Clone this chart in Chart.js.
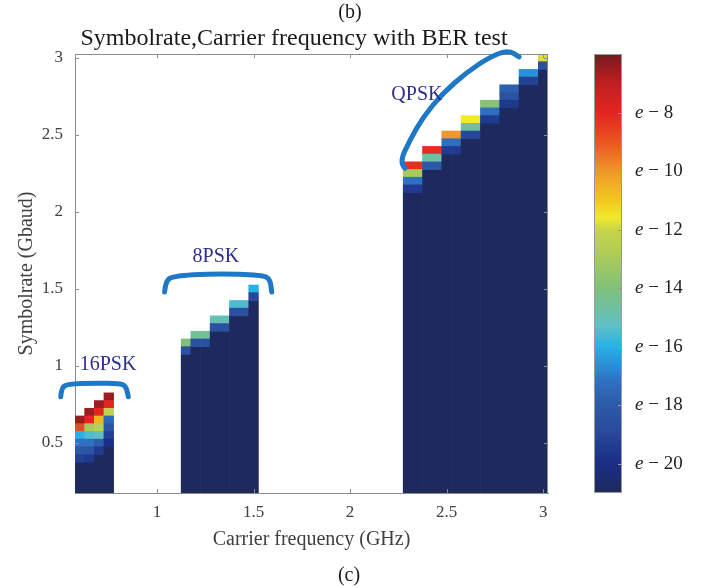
<!DOCTYPE html>
<html>
<head>
<meta charset="utf-8">
<script src="https://cdn.jsdelivr.net/npm/chart.js@4.4.1/dist/chart.umd.min.js"></script>
<style>
  html, body { margin: 0; padding: 0; background: #fff; }
  #wrap { width: 709px; height: 588px; }
</style>
</head>
<body>
<div id="wrap"><canvas id="berChart" width="709" height="588"></canvas></div>
<script>
// carrier frequency (GHz) of every measured column
const carrierFreq = [0.6, 0.65, 0.7, 0.75,
  1.15, 1.2, 1.25, 1.3, 1.35, 1.4, 1.45, 1.5,
  2.3, 2.35, 2.4, 2.45, 2.5, 2.55, 2.6, 2.65, 2.7, 2.75, 2.8, 2.85, 2.9, 2.95, 3.0];

// highest symbolrate (Gbaud) tested in each column
const maxSymbolrate = [0.65, 0.7, 0.75, 0.8,
  1.15, 1.2, 1.2, 1.3, 1.3, 1.4, 1.4, 1.5,
  2.3, 2.3, 2.4, 2.4, 2.5, 2.5, 2.6, 2.6, 2.7, 2.7, 2.8, 2.8, 2.9, 2.9, 3.0];

// BER exponent of the top cells in each column, starting at maxSymbolrate going down
const berTopCells = [
  [-6.5, -8.8, -16, -17.2, -18.2, -19.2],
  [-6.5, -8, -13, -15.5, -17.2, -18.3, -19.5],
  [-6.5, -8, -10.6, -12.5, -15.2, -17.8, -19.5],
  [-6.5, -8, -12.2, -17.5, -18.3, -19.3, -20],
  [-14, -18.5],
  [-14.5, -18.5],
  [-14.5, -18.5],
  [-15, -18.5],
  [-15, -18.5],
  [-15.5, -18.5],
  [-15.5, -18.5],
  [-16, -19],
  [-8.2, -13, -17.2, -19.5],
  [-8.2, -13, -17.2, -19.5],
  [-8.2, -14.7, -18],
  [-8.2, -14.7, -18],
  [-10, -17.3, -19.5],
  [-10, -17.3, -19.5],
  [-11.6, -14.7, -19],
  [-11.6, -14.7, -19],
  [-13.8, -17.3, -19.5],
  [-13.8, -17.3, -19.5],
  [-17.8, -18.5, -19.6],
  [-17.8, -18.5, -19.6],
  [-16.6, -19.2],
  [-16.6, -19.2],
  [-11.8, -18.5]
];

// everything below the listed cells sits at the floor of the colour scale
const berFloor = -21;
const berCeil = -6;
const minSymbolrate = 0.2;
const cellStep = 0.05;

const xTicks = [1, 1.5, 2, 2.5, 3];
const yTicks = [0.5, 1, 1.5, 2, 2.5, 3];
const cbTicks = [-20, -18, -16, -14, -12, -10, -8];

// modulation groups: label and its anchor (GHz, Gbaud)
const groupNames = ['16PSK', '8PSK', 'QPSK'];
const groupLabelAt = [[0.746, 1.005], [1.305, 1.707], [2.346, 2.759]];
// hand drawn brackets, in data units
const groupBrackets = [
  [[0.501, 0.80], [0.505, 0.856], [0.534, 0.882], [0.679, 0.889], [0.808, 0.885], [0.839, 0.869], [0.851, 0.80]],
  [[1.039, 1.48], [1.044, 1.544], [1.077, 1.583], [1.30, 1.60], [1.544, 1.59], [1.585, 1.564], [1.594, 1.48]],
  [[2.284, 2.283], [2.255, 2.319], [2.31, 2.467], [2.378, 2.616], [2.481, 2.772], [2.606, 2.908], [2.724, 3.006], [2.818, 3.051], [2.875, 3.006]]
];

// jet-like colormap as it shows on the colorbar
const cmapStops = [
  [-21, '#1e2a5e'], [-20, '#1a2e84'], [-19.5, '#1f3a90'], [-18.8, '#2a4c9c'], [-18, '#2c5aa8'],
  [-17.2, '#2f70c0'], [-16.6, '#2a90d8'], [-16, '#28b0e6'], [-15.3, '#5ec0c8'], [-14.8, '#6cc0a8'],
  [-14, '#80c07a'], [-13, '#a8ca5c'], [-12, '#c8d44a'], [-11.6, '#f1e92c'], [-11, '#f2c81e'],
  [-10, '#f0962a'], [-9, '#ea5520'], [-8, '#e32522'], [-7, '#c01f20'], [-6, '#741a1f']
];

function hexRgb(h) {
  return [parseInt(h.slice(1, 3), 16), parseInt(h.slice(3, 5), 16), parseInt(h.slice(5, 7), 16)];
}

function berColor(v) {
  v = Math.max(berFloor, Math.min(berCeil, v));
  for (let i = 1; i < cmapStops.length; i++) {
    const [v1, c1] = cmapStops[i];
    if (v <= v1) {
      const [v0, c0] = cmapStops[i - 1];
      const t = (v - v0) / (v1 - v0);
      const a = hexRgb(c0), b = hexRgb(c1);
      return 'rgb(' + a.map((k, j) => Math.round(k + (b[j] - k) * t)).join(',') + ')';
    }
  }
  return cmapStops[cmapStops.length - 1][1];
}

// one floating bar per cell, plus one tall bar for the floor part of each column
const cells = [];
carrierFreq.forEach((f, i) => {
  const top = berTopCells[i];
  const lowest = maxSymbolrate[i] - (top.length - 1) * cellStep;
  cells.push({ x: f, y: [minSymbolrate - cellStep / 2, lowest - cellStep / 2], v: berFloor });
  top.forEach((v, k) => {
    const r = maxSymbolrate[i] - k * cellStep;
    cells.push({ x: f, y: [r - cellStep / 2, r + cellStep / 2], v: v });
  });
});

const serif = '"Liberation Serif", "Times New Roman", serif';
const tickFont = { family: serif, size: 17 };
const axisFont = { family: serif, size: 20 };
const axisGray = '#8c8c8c';
const textGray = '#404040';

function smoothLine(ctx, pts) {
  ctx.beginPath();
  ctx.moveTo(pts[0][0], pts[0][1]);
  for (let i = 1; i < pts.length - 1; i++) {
    const mx = (pts[i][0] + pts[i + 1][0]) / 2;
    const my = (pts[i][1] + pts[i + 1][1]) / 2;
    ctx.quadraticCurveTo(pts[i][0], pts[i][1], mx, my);
  }
  const last = pts[pts.length - 1];
  ctx.lineTo(last[0], last[1]);
  ctx.stroke();
}

const decor = {
  id: 'decor',
  afterDraw(chart) {
    const { ctx, chartArea: a, scales: { x, y, cb } } = chart;
    ctx.save();

    // axes box with inward ticks
    ctx.strokeStyle = axisGray;
    ctx.lineWidth = 1;
    ctx.beginPath();
    ctx.moveTo(a.left, a.top + 0.5);
    ctx.lineTo(a.right, a.top + 0.5);
    ctx.moveTo(a.right - 0.5, a.top);
    ctx.lineTo(a.right - 0.5, a.bottom);
    xTicks.forEach(v => {
      const px = Math.round(x.getPixelForValue(v)) + 0.5;
      ctx.moveTo(px, a.bottom); ctx.lineTo(px, a.bottom - 4);
      ctx.moveTo(px, a.top); ctx.lineTo(px, a.top + 4);
    });
    yTicks.forEach(v => {
      const py = Math.round(y.getPixelForValue(v)) + 0.5;
      ctx.moveTo(a.left, py); ctx.lineTo(a.left + 4, py);
      ctx.moveTo(a.right, py); ctx.lineTo(a.right - 4, py);
    });
    ctx.stroke();

    // colorbar
    const cbL = cb.left + 46, cbR = cb.left + 74;
    const gTop = cb.getPixelForValue(berCeil), gBot = cb.getPixelForValue(berFloor);
    const grad = ctx.createLinearGradient(0, gBot, 0, gTop);
    cmapStops.forEach(([v, c]) => grad.addColorStop((v - berFloor) / (berCeil - berFloor), c));
    ctx.fillStyle = grad;
    ctx.fillRect(cbL, gTop, cbR - cbL, gBot - gTop);
    ctx.strokeStyle = '#9a9a9a';
    ctx.strokeRect(cbL + 0.5, gTop + 0.5, cbR - cbL - 1, gBot - gTop - 1);
    ctx.beginPath();
    cbTicks.forEach(v => {
      const py = Math.round(cb.getPixelForValue(v)) + 0.5;
      ctx.moveTo(cbR, py); ctx.lineTo(cbR - 4, py);
    });
    ctx.stroke();
    ctx.fillStyle = '#222';
    ctx.textBaseline = 'middle';
    ctx.textAlign = 'left';
    cbTicks.forEach(v => {
      const py = cb.getPixelForValue(v);
      ctx.font = 'italic 19px ' + serif;
      ctx.fillText('e', cbR + 13, py);
      const w = ctx.measureText('e').width;
      ctx.font = '19px ' + serif;
      ctx.fillText(' \u2212 ' + (-v), cbR + 13 + w, py);
    });

    // group brackets and names
    ctx.strokeStyle = '#1f78c6';
    ctx.lineWidth = 5;
    ctx.lineCap = 'round';
    ctx.lineJoin = 'round';
    groupBrackets.forEach(b => {
      smoothLine(ctx, b.map(p => [x.getPixelForValue(p[0]), y.getPixelForValue(p[1])]));
    });
    ctx.fillStyle = '#2e2f8e';
    ctx.font = '20px ' + serif;
    ctx.textAlign = 'center';
    groupNames.forEach((n, i) => {
      ctx.fillText(n, x.getPixelForValue(groupLabelAt[i][0]), y.getPixelForValue(groupLabelAt[i][1]));
    });

    // title and panel marks
    ctx.fillStyle = '#1a1a1a';
    ctx.font = '24px ' + serif;
    ctx.fillText('Symbolrate,Carrier frequency with BER test', 294, 39);
    ctx.font = '20px ' + serif;
    ctx.fillText('(b)', 350, 13);
    ctx.fillText('(c)', 349, 576);
    ctx.restore();
  }
};

new Chart(document.getElementById('berChart'), {
  type: 'bar',
  data: {
    datasets: [{
      data: cells,
      backgroundColor: c => berColor(c.raw.v),
      borderWidth: 0,
      barPercentage: 1,
      categoryPercentage: 1
    }]
  },
  options: {
    responsive: false,
    animation: false,
    devicePixelRatio: 1,
    layout: { padding: { top: 54 } },
    plugins: {
      legend: { display: false },
      tooltip: { enabled: false },
      title: { display: false }
    },
    scales: {
      x: {
        type: 'linear',
        min: 0.575,
        max: 3.025,
        offset: false,
        afterBuildTicks: s => { s.ticks = xTicks.map(v => ({ value: v })); },
        afterFit: s => { s.height = 95; },
        grid: { display: false, drawTicks: false, offset: false },
        border: { color: axisGray },
        ticks: { font: tickFont, color: textGray, padding: 9, maxRotation: 0, autoSkip: false, callback: v => String(v) },
        title: { display: true, text: 'Carrier frequency (GHz)', font: axisFont, color: textGray, padding: { bottom: 36 } }
      },
      y: {
        type: 'linear',
        min: 0.175,
        max: 3.025,
        afterBuildTicks: s => { s.ticks = yTicks.map(v => ({ value: v })); },
        afterFit: s => { s.width = 75; },
        grid: { display: false, drawTicks: false },
        border: { color: axisGray },
        ticks: { font: tickFont, color: textGray, padding: 12, autoSkip: false, callback: v => String(v) },
        title: { display: true, text: 'Symbolrate (Gbaud)', font: axisFont, color: textGray, padding: { top: 15 } }
      },
      cb: {
        type: 'linear',
        position: 'right',
        min: berFloor,
        max: berCeil,
        afterBuildTicks: s => { s.ticks = cbTicks.map(v => ({ value: v })); },
        afterFit: s => { s.width = 161; },
        grid: { display: false, drawTicks: false },
        border: { display: false },
        ticks: { display: false }
      }
    }
  },
  plugins: [decor]
});
</script>
</body>
</html>
